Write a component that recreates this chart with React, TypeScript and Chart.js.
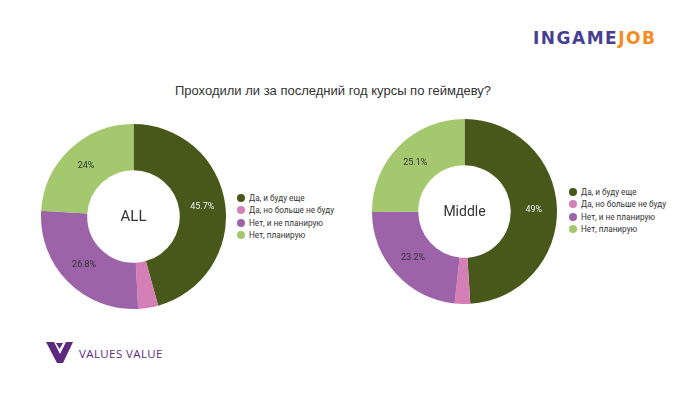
import React, { useEffect, useRef } from "react";
import { Chart, registerables } from "chart.js";

Chart.register(...registerables);

const categories = ["Да, и буду еще", "Да, но больше не буду", "Нет, и не планирую", "Нет, планирую"];
const allValues = [45.7, 3.5, 26.8, 24];
const middleValues = [49, 2.7, 23.2, 25.1];
const sliceColors = ["#48581a", "#d47fb6", "#9c63a8", "#a3c86d"];
const labelColors = ["#eeeeee", "#333333", "#333333", "#333333"];
const titleText = "Проходили ли за последний год курсы по геймдеву?";

const FONT = "Roboto, 'Noto Sans', sans-serif";

const pctPlugin = {
  id: "pctLabels",
  afterDatasetsDraw(chart: any) {
    const ctx = chart.ctx;
    const meta = chart.getDatasetMeta(0);
    const data = chart.data.datasets[0].data as number[];
    ctx.save();
    ctx.font = `9px ${FONT}`;
    ctx.textAlign = "center";
    ctx.textBaseline = "middle";
    meta.data.forEach((arc: any, i: number) => {
      if (data[i] < 5) return;
      const p = arc.tooltipPosition();
      ctx.fillStyle = labelColors[i];
      ctx.fillText(`${data[i]}%`, p.x, p.y);
    });
    ctx.restore();
  },
};

const centerPlugin = {
  id: "centerText",
  afterDraw(chart: any) {
    const txt = chart.options.plugins.centerText?.text;
    const size = chart.options.plugins.centerText?.size || 15;
    if (!txt) return;
    const meta = chart.getDatasetMeta(0);
    const arc: any = meta.data[0];
    const ctx = chart.ctx;
    ctx.save();
    ctx.font = `${size}px ${FONT}`;
    ctx.fillStyle = "#333333";
    ctx.textAlign = "center";
    ctx.textBaseline = "middle";
    ctx.fillText(txt, arc.x, arc.y + 1);
    ctx.restore();
  },
};

function Donut({ values, center, centerSize, left, top, size }: { values: number[]; center: string; centerSize: number; left: number; top: number; size: number }) {
  const ref = useRef<HTMLCanvasElement>(null);
  useEffect(() => {
    if (!ref.current) return;
    const chart = new Chart(ref.current, {
      type: "doughnut",
      data: {
        labels: categories,
        datasets: [{ data: values, backgroundColor: sliceColors, borderWidth: 0 }],
      },
      options: {
        animation: false,
        responsive: false,
        cutout: "50%",
        layout: { padding: 0 },
        plugins: {
          legend: { display: false },
          tooltip: { enabled: false },
          centerText: { text: center, size: centerSize },
        } as any,
      },
      plugins: [pctPlugin, centerPlugin],
    });
    return () => chart.destroy();
  }, []);
  return (
    <canvas
      ref={ref}
      width={size}
      height={size}
      style={{ position: "absolute", left, top, width: size, height: size }}
    />
  );
}

function Legend({ left, top }: { left: number; top: number }) {
  return (
    <div style={{ position: "absolute", left, top, fontFamily: FONT, fontSize: 8.2, color: "#333" }}>
      {categories.map((c, i) => (
        <div key={c} style={{ display: "flex", alignItems: "center", height: 12.3 }}>
          <span
            style={{
              display: "inline-block",
              width: 8,
              height: 8,
              borderRadius: 4,
              background: sliceColors[i],
              marginRight: 4,
            }}
          />
          <span>{c}</span>
        </div>
      ))}
    </div>
  );
}

export default function App() {
  return (
    <div style={{ position: "fixed", left: 0, top: 0, width: 700, height: 394, background: "#fff", overflow: "hidden" }}>
      <div
        style={{
          position: "absolute",
          left: 533,
          top: 28,
          whiteSpace: "nowrap",
          fontFamily: "'DejaVu Sans', sans-serif",
          fontWeight: 700,
          fontSize: 17,
          lineHeight: "20px",
          letterSpacing: 1.5,
        }}
      >
        <span style={{ color: "#473f91" }}>INGAME</span>
        <span style={{ color: "#f78a1f" }}>JOB</span>
      </div>
      <div
        style={{
          position: "absolute",
          left: 0,
          width: 666,
          top: 82,
          textAlign: "center",
          fontFamily: "'Liberation Sans', Arial, sans-serif",
          fontSize: 13,
          lineHeight: "18px",
          color: "#333",
        }}
      >
        {titleText}
      </div>
      <Donut values={allValues} center="ALL" centerSize={15} left={41} top={124} size={185} />
      <Legend left={237} top={192} />
      <Donut values={middleValues} center="Middle" centerSize={14} left={372} top={119} size={185} />
      <Legend left={569} top={186} />
      <svg style={{ position: "absolute", left: 46, top: 342 }} width={28} height={22} viewBox="0 0 28 22">
        <polygon points="0,0 8,0 14,12 20,0 27,0 17,21 11,21" fill="#5e2a80" />
        <polygon points="9,0 18,0 13.5,8" fill="#fff" />
        <polygon points="10,1 17,1 13.5,7" fill="#5e2a80" />
      </svg>
      <div
        style={{
          position: "absolute",
          left: 79,
          top: 346,
          fontFamily: "'Open Sans', sans-serif",
          fontSize: 11.5,
          lineHeight: "16px",
          color: "#5e2a80",
          letterSpacing: 0.4,
        }}
      >
        VALUES VALUE
      </div>
    </div>
  );
}
